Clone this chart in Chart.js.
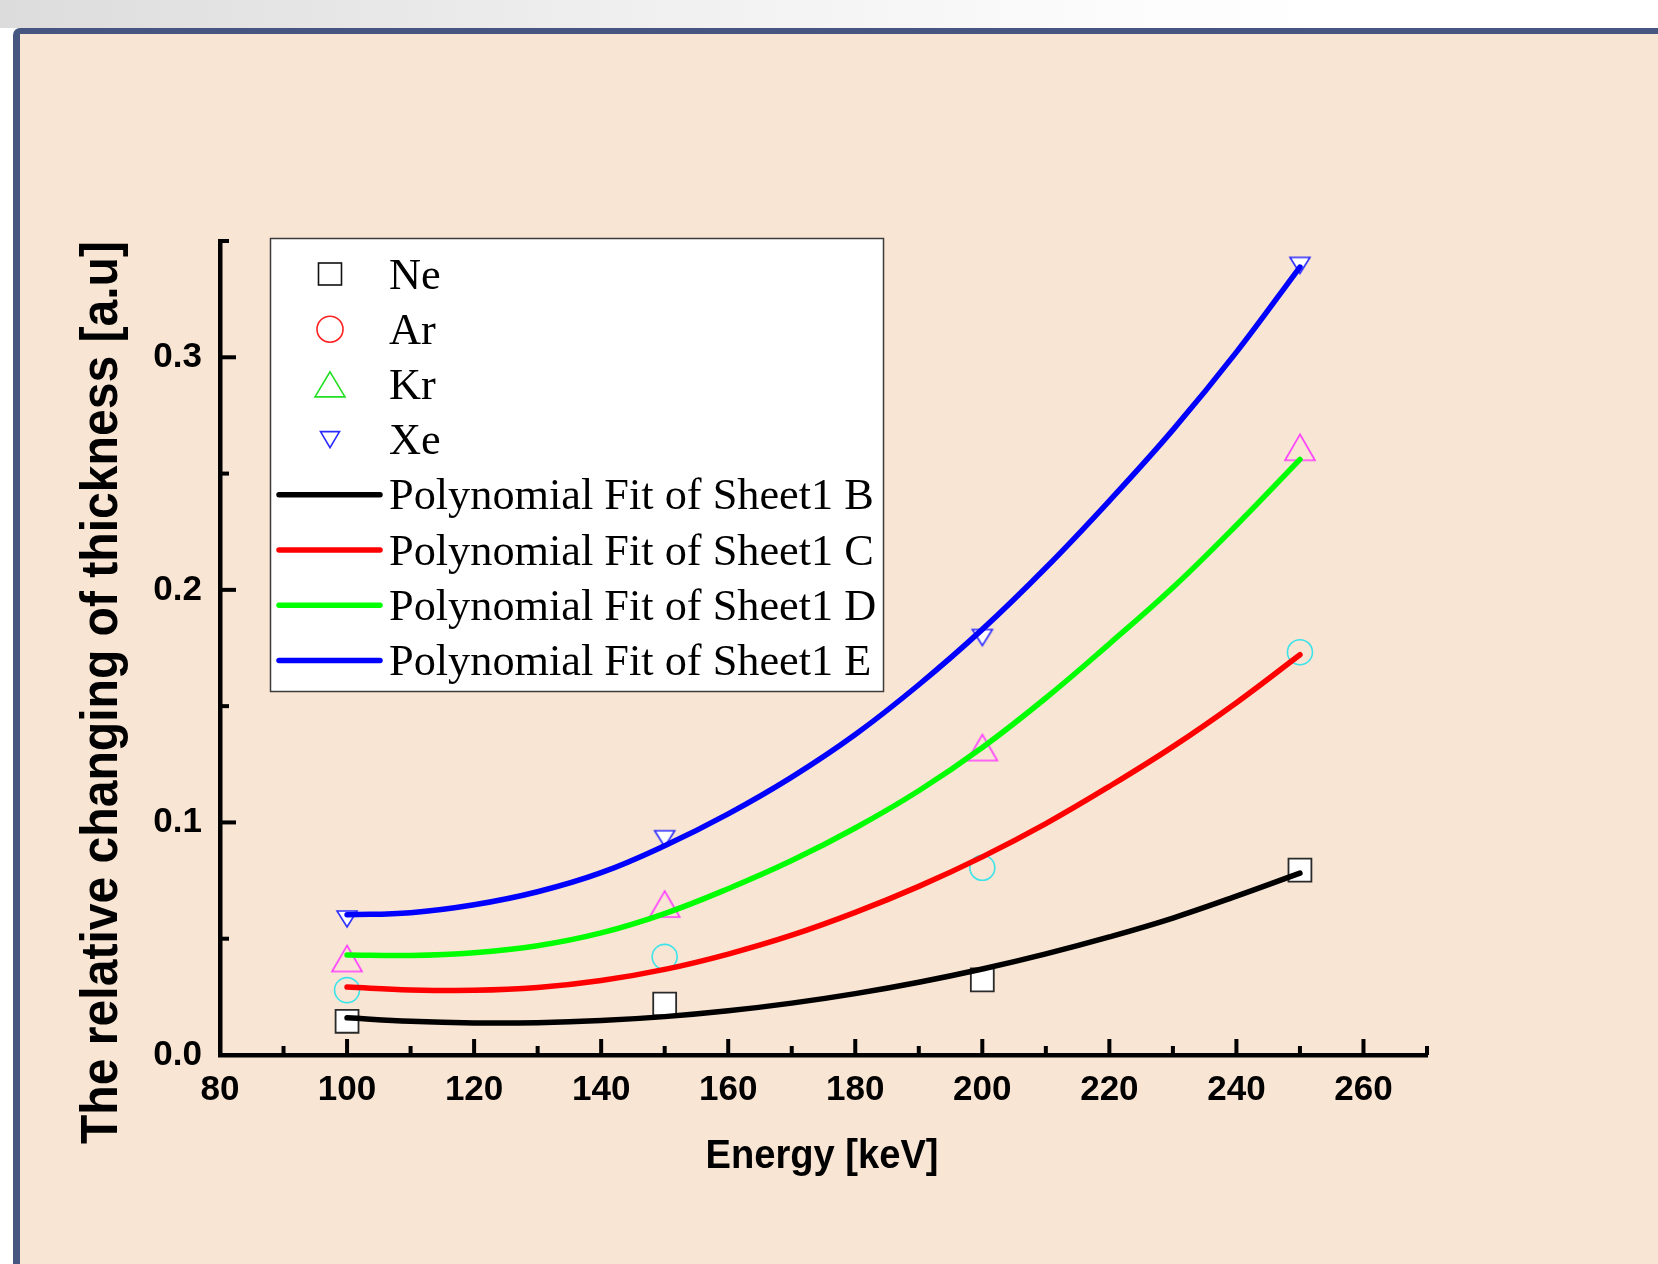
<!DOCTYPE html>
<html>
<head>
<meta charset="utf-8">
<title>Relative changing of thickness vs energy</title>
<script src="https://cdn.jsdelivr.net/npm/chart.js@4.4.1/dist/chart.umd.min.js"></script>
<style>
  html, body { margin: 0; padding: 0; width: 1658px; height: 1264px; overflow: hidden; background: #ffffff; }
  #strip { position: absolute; left: 0; top: 0; width: 1658px; height: 28px;
           background: linear-gradient(to right, #dcdcdc 0%, #eeeeee 35%, #fbfbfb 65%, #ffffff 80%); }
  #panel { position: absolute; left: 13px; top: 28px; width: 1680px; height: 1260px; box-sizing: border-box;
           border-top: 6px solid #465680; border-left: 7px solid #465680; border-top-left-radius: 7px;
           background: #f9e5d3; }
  #wrap { position: absolute; left: 0; top: 0; width: 1658px; height: 1264px; }
</style>
</head>
<body>
<div id="strip"></div>
<div id="panel"></div>
<div id="wrap"><canvas id="chart" width="1658" height="1264"></canvas></div>
<script>
// Measured points (energy in keV)
const energies = [100, 150, 200, 250];
const neValues = [0.0145, 0.0219, 0.0323, 0.0795];
const arValues = [0.0279, 0.0422, 0.0805, 0.1732];
const krValues = [0.0415, 0.0649, 0.1322, 0.2613];
const xeValues = [0.0585, 0.0930, 0.1795, 0.3395];

// Polynomial fit curves, sampled every 10 keV
const fitEnergies = [100, 110, 120, 130, 140, 150, 160, 170, 180, 190, 200, 210, 220, 230, 240, 250];
const fitB = [0.0160, 0.0145, 0.0138, 0.0139, 0.0148, 0.0165, 0.0190, 0.0223, 0.0264, 0.0313, 0.0370, 0.0435, 0.0508, 0.0589, 0.0683, 0.0782];
const fitC = [0.0292, 0.0280, 0.0278, 0.0290, 0.0320, 0.0368, 0.0434, 0.0515, 0.0613, 0.0725, 0.0852, 0.0995, 0.1155, 0.1326, 0.1515, 0.1721];
const fitD = [0.0430, 0.0428, 0.0440, 0.0470, 0.0525, 0.0608, 0.0715, 0.0836, 0.0976, 0.1136, 0.1322, 0.1535, 0.1768, 0.2010, 0.2278, 0.2561];
const fitE = [0.0603, 0.0612, 0.0646, 0.0702, 0.0784, 0.0900, 0.1037, 0.1195, 0.1378, 0.1592, 0.1830, 0.2095, 0.2383, 0.2688, 0.3022, 0.3388];

// Axis ticks
const xTickValues = [80, 100, 120, 140, 160, 180, 200, 220, 240, 260];
const xMinorTicks = [90, 110, 130, 150, 170, 190, 210, 230, 250, 270];
const yTickValues = [0.0, 0.1, 0.2, 0.3];
const yMinorTicks = [0.05, 0.15, 0.25, 0.35];

const xTitle = 'Energy [keV]';
const yTitle = 'The relative changing of thickness [a.u]';
const legendLabels = ['Ne', 'Ar', 'Kr', 'Xe',
  'Polynomial Fit of Sheet1 B', 'Polynomial Fit of Sheet1 C',
  'Polynomial Fit of Sheet1 D', 'Polynomial Fit of Sheet1 E'];

const toPoints = (xs, ys) => xs.map((x, i) => ({ x: x, y: ys[i] }));

// Triangle marker sprites
function triangleSprite(w, h, stroke, fill, down, lw) {
  const pad = Math.ceil(lw) + 1;
  const c = document.createElement('canvas');
  c.width = w + pad * 2;
  c.height = h + pad * 2;
  const g = c.getContext('2d');
  g.lineWidth = lw;
  g.strokeStyle = stroke;
  g.beginPath();
  if (down) {
    g.moveTo(pad, pad); g.lineTo(pad + w, pad); g.lineTo(pad + w / 2, pad + h);
  } else {
    g.moveTo(pad + w / 2, pad); g.lineTo(pad + w, pad + h); g.lineTo(pad, pad + h);
  }
  g.closePath();
  if (fill) { g.fillStyle = fill; g.fill(); }
  g.stroke();
  return c;
}
const krMarker = triangleSprite(30, 26, '#ff3cff', null, false, 1.6);
const xeMarker = triangleSprite(20, 16, '#2a2aff', '#ffffff', true, 1.6);

const fitLine = (label, xs, ys, color) => ({
  label: label, data: toPoints(xs, ys), showLine: true,
  borderColor: color, backgroundColor: color, borderWidth: 5.5,
  borderCapStyle: 'round', borderJoinStyle: 'round',
  pointRadius: 0, tension: 0.4, order: 0
});

const axisFont = { family: '"Liberation Sans", Arial, sans-serif', size: 35, weight: 'bold' };

// Minor/major inward ticks, axis titles and the legend box
const decorations = {
  id: 'decorations',
  afterDraw(chart) {
    const ctx = chart.ctx;
    const xs = chart.scales.x, ys = chart.scales.y;
    const area = chart.chartArea;
    ctx.save();
    ctx.strokeStyle = '#000';
    ctx.lineWidth = 4;
    ctx.lineCap = 'butt';
    const xTick = (v, len) => {
      const px = xs.getPixelForValue(v);
      ctx.beginPath(); ctx.moveTo(px, area.bottom); ctx.lineTo(px, area.bottom - len); ctx.stroke();
    };
    const yTick = (v, len) => {
      const py = ys.getPixelForValue(v);
      ctx.beginPath(); ctx.moveTo(area.left, py); ctx.lineTo(area.left + len, py); ctx.stroke();
    };
    xTickValues.forEach(v => xTick(v, 16));
    xMinorTicks.forEach(v => xTick(v, 9));
    yTickValues.forEach(v => yTick(v, 16));
    yMinorTicks.forEach(v => yTick(v, 9));

    // Axis titles
    ctx.fillStyle = '#000';
    ctx.textAlign = 'center';
    ctx.textBaseline = 'alphabetic';
    ctx.font = 'bold 41px "Liberation Sans", Arial, sans-serif';
    ctx.fillText(xTitle, 822, 1168, 233);
    ctx.save();
    ctx.translate(117, 692.5);
    ctx.rotate(-Math.PI / 2);
    ctx.font = 'bold 52px "Liberation Sans", Arial, sans-serif';
    ctx.fillText(yTitle, 0, 0, 903);
    ctx.restore();

    // Legend
    const box = { left: 270, top: 238, right: 884, bottom: 692 };
    ctx.fillStyle = '#ffffff';
    ctx.fillRect(box.left, box.top, box.right - box.left, box.bottom - box.top);
    ctx.strokeStyle = '#3c3c3c';
    ctx.lineWidth = 1.5;
    ctx.strokeRect(box.left + 0.5, box.top + 0.5, box.right - box.left - 1, box.bottom - box.top - 1);

    const rowY = i => 274 + 55.2 * i;
    const mx = 330;
    // Ne: square
    ctx.lineWidth = 1.6;
    ctx.strokeStyle = '#111';
    ctx.strokeRect(mx - 11.5, rowY(0) - 11, 23, 22);
    // Ar: circle
    ctx.strokeStyle = '#ff2020';
    ctx.beginPath(); ctx.arc(mx, rowY(1), 13, 0, Math.PI * 2); ctx.stroke();
    // Kr: triangle
    ctx.strokeStyle = '#20e020';
    ctx.beginPath();
    ctx.moveTo(mx, rowY(2) - 12.5); ctx.lineTo(mx + 15, rowY(2) + 12.5); ctx.lineTo(mx - 15, rowY(2) + 12.5);
    ctx.closePath(); ctx.stroke();
    // Xe: down triangle
    ctx.strokeStyle = '#2a2aff';
    ctx.beginPath();
    ctx.moveTo(mx - 9.5, rowY(3) - 8); ctx.lineTo(mx + 9.5, rowY(3) - 8); ctx.lineTo(mx, rowY(3) + 8);
    ctx.closePath(); ctx.stroke();
    // Fit line samples
    const lineColors = ['#000000', '#ff0000', '#00ff00', '#0000ff'];
    ctx.lineWidth = 5.5;
    ctx.lineCap = 'round';
    lineColors.forEach((c, k) => {
      ctx.strokeStyle = c;
      ctx.beginPath(); ctx.moveTo(279, rowY(4 + k)); ctx.lineTo(380, rowY(4 + k)); ctx.stroke();
    });
    ctx.fillStyle = '#000';
    ctx.textAlign = 'left';
    ctx.font = '44.3px "Liberation Serif", "Times New Roman", serif';
    legendLabels.forEach((t, i) => ctx.fillText(t, 389, rowY(i) + 14.5));
    ctx.restore();
  }
};

new Chart(document.getElementById('chart'), {
  type: 'scatter',
  data: {
    datasets: [
      fitLine('Polynomial Fit of Sheet1 B', fitEnergies, fitB, '#000000'),
      fitLine('Polynomial Fit of Sheet1 C', fitEnergies, fitC, '#ff0000'),
      fitLine('Polynomial Fit of Sheet1 D', fitEnergies, fitD, '#00ff00'),
      fitLine('Polynomial Fit of Sheet1 E', fitEnergies, fitE, '#0000ff'),
      { label: 'Ne', data: toPoints(energies, neValues), pointStyle: 'rect', pointRadius: 16.2,
        pointBorderColor: '#2a2a2a', pointBackgroundColor: '#ffffff', pointBorderWidth: 1.8, order: 1 },
      { label: 'Ar', data: toPoints(energies, arValues), pointStyle: 'circle', pointRadius: 12.5,
        pointBorderColor: '#3ce4ea', pointBackgroundColor: 'rgba(0,0,0,0)', pointBorderWidth: 1.6, order: 1 },
      { label: 'Kr', data: toPoints(energies, krValues), pointStyle: krMarker, pointRadius: 10, order: 1 },
      { label: 'Xe', data: toPoints(energies, xeValues), pointStyle: xeMarker, pointRadius: 10, order: 1 }
    ]
  },
  options: {
    responsive: false,
    animation: false,
    events: [],
    layout: { padding: { left: 0, top: 241, right: 231, bottom: 0 } },
    plugins: { legend: { display: false }, tooltip: { enabled: false } },
    scales: {
      x: {
        type: 'linear', min: 80, max: 270,
        grid: { display: false, drawTicks: false },
        border: { display: true, color: '#000', width: 4.5 },
        afterBuildTicks: s => { s.ticks = xTickValues.map(v => ({ value: v })); },
        afterFit: s => { s.height = 209; },
        ticks: { color: '#000', font: axisFont, padding: 14, maxRotation: 0, autoSkip: false,
                 callback: v => String(v) }
      },
      y: {
        type: 'linear', min: 0, max: 0.35,
        grid: { display: false, drawTicks: false },
        border: { display: true, color: '#000', width: 4.5 },
        afterBuildTicks: s => { s.ticks = yTickValues.map(v => ({ value: v })); },
        afterFit: s => { s.width = 220; },
        ticks: { color: '#000', font: axisFont, padding: 18, autoSkip: false,
                 callback: v => Number(v).toFixed(1) }
      }
    }
  },
  plugins: [decorations]
});
</script>
</body>
</html>
